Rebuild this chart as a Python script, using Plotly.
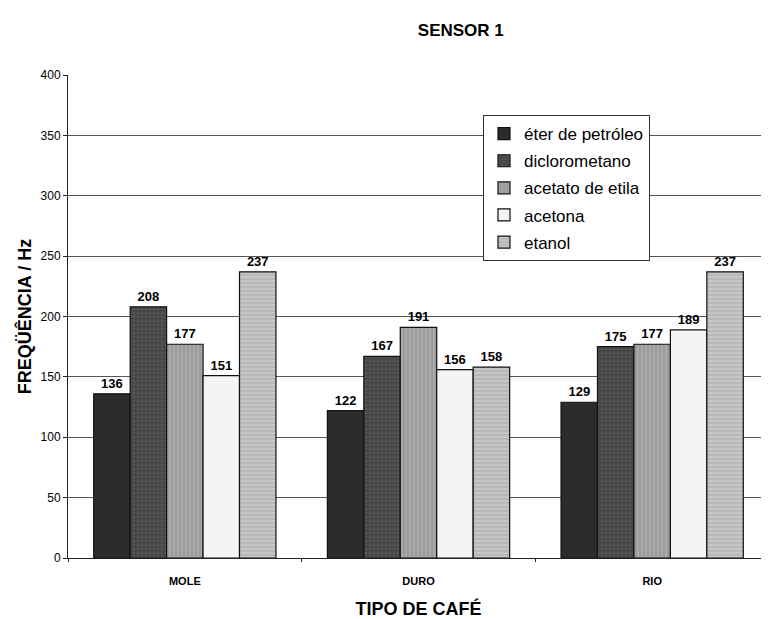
import plotly.graph_objects as go

categories = ["MOLE", "DURO", "RIO"]
series_names = ["éter de petróleo", "diclorometano", "acetato de etila", "acetona", "etanol"]
eter = [136, 122, 129]
dicloro = [208, 167, 175]
acetato = [177, 191, 177]
acetona = [151, 156, 189]
etanol = [237, 158, 237]
values = [eter, dicloro, acetato, acetona, etanol]

colors = ["#2c2c2c", "#474747", "#9a9a9a", "#f4f4f4", "#b8b8b8"]
patterns = ["", ".", "|", "", "-"]
pfg = ["#2c2c2c", "#666666", "#d0d0d0", "#f4f4f4", "#e8e8e8"]

FONT = "Liberation Sans, Arial, sans-serif"
W, H = 761, 611
fig = go.Figure()
for i, (name, vals, c, p, fg) in enumerate(zip(series_names, values, colors, patterns, pfg)):
    fig.add_trace(go.Bar(
        x=categories, y=vals, name=name, legendgroup=f"g{i}",
        marker=dict(color=c, line=dict(color="#111", width=1.2),
                    pattern=dict(shape=p, fgcolor=fg, size=4, solidity=0.3)),
        text=[str(v) for v in vals], textposition="outside",
        textfont=dict(family=FONT, size=13, color="#000", weight="bold"),
        cliponaxis=False,
    ))

fig.update_layout(
    width=W, height=H,
    margin=dict(l=60, r=0, t=67, b=61),
    paper_bgcolor="white", plot_bgcolor="white",
    barmode="group", bargap=0.22, bargroupgap=0,
    font=dict(family=FONT, color="#000"),
    title=dict(text="<b>SENSOR 1</b>", x=0.595, xanchor="center",
               y=1 - 22 / H, yanchor="middle",
               font=dict(size=17, family=FONT, color="#000")),
    showlegend=True,
    legend=dict(x=0.592, y=0.917, xanchor="left", yanchor="top",
                bgcolor="white", bordercolor="#333", borderwidth=1,
                font=dict(size=17, family=FONT, color="#000"),
                itemwidth=30, tracegroupgap=2),
    xaxis=dict(
        title=dict(text="<b>TIPO DE CAFÉ</b>", font=dict(size=18, family=FONT, color="#000"), standoff=17),
        tickfont=dict(size=11, family=FONT, color="#000", weight="bold"), showline=True, linecolor="#222",
        linewidth=1, ticks="outside", ticklen=3, tickcolor="#222", ticklabelstandoff=13,
        showgrid=False, tickson="boundaries", automargin=False,
    ),
    yaxis=dict(
        title=dict(text="<b>FREQÜÊNCIA / Hz</b>", font=dict(size=18, family=FONT, color="#000"), standoff=4),
        range=[0, 400], dtick=50, tickfont=dict(size=12, family=FONT, color="#000"),
        showline=True, linecolor="#222", linewidth=1, ticks="outside",
        ticklen=4, tickcolor="#222", automargin=False,
        showgrid=True, gridcolor="#555", gridwidth=1, zeroline=False,
    ),
)

fig.write_html("out.html")
